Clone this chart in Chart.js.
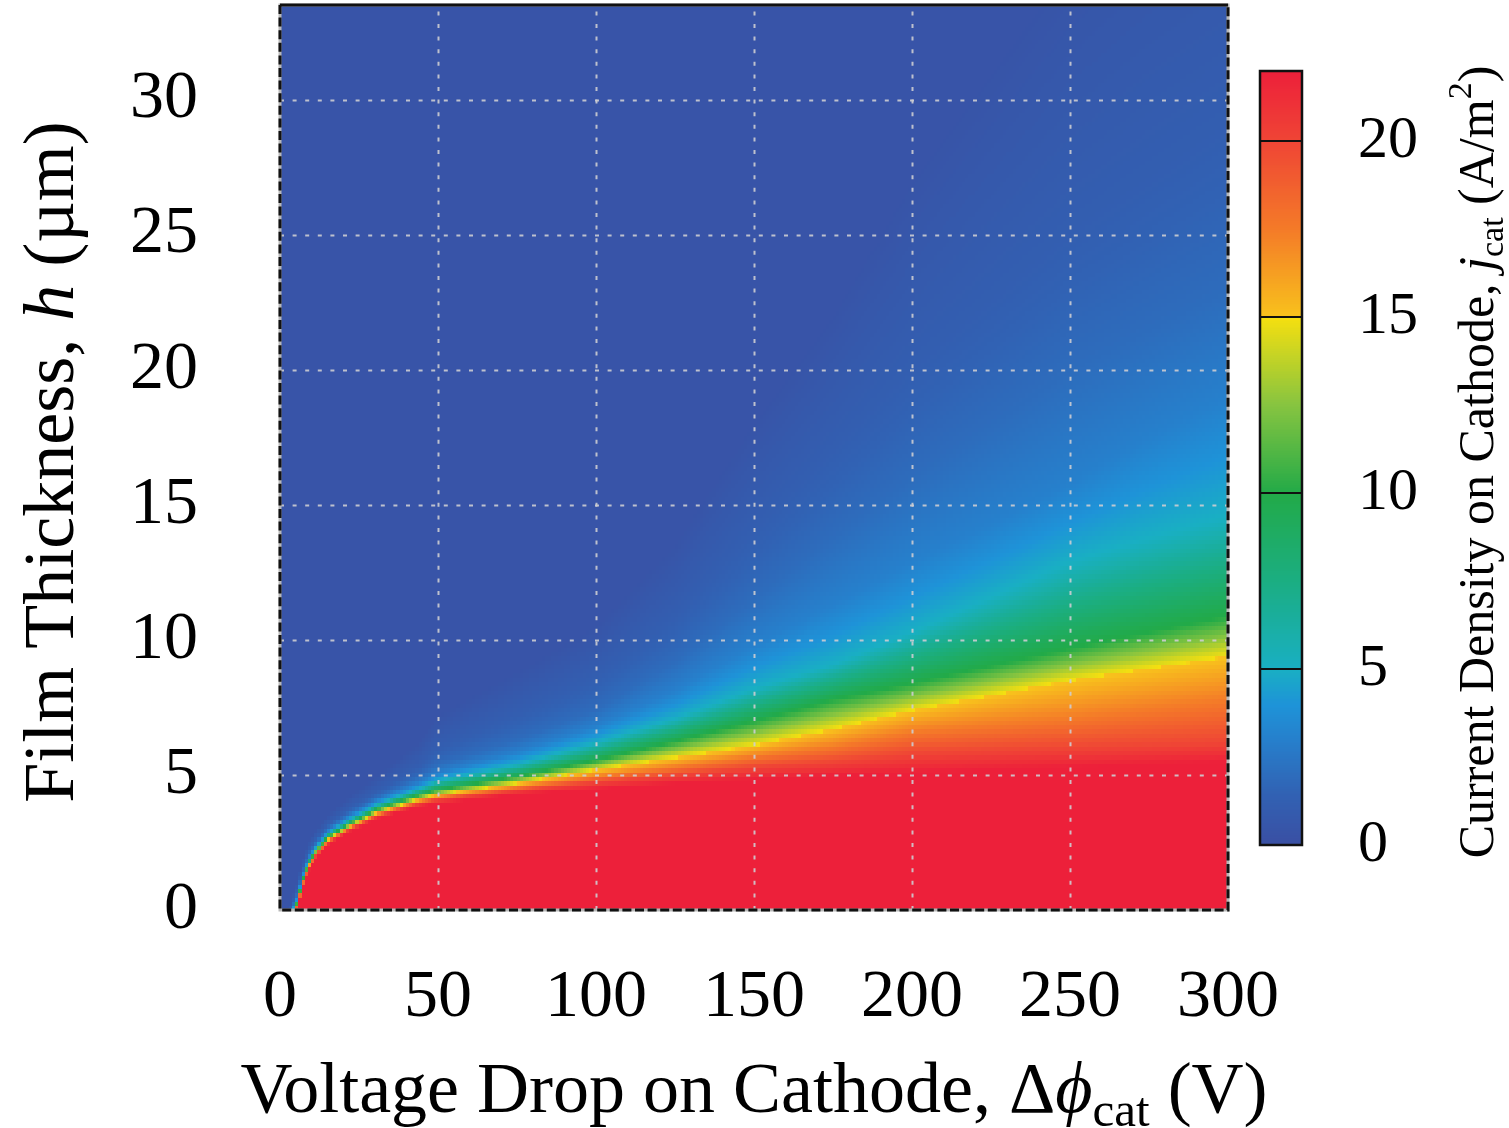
<!DOCTYPE html>
<html>
<head>
<meta charset="utf-8">
<script src="https://cdn.jsdelivr.net/npm/chart.js@4.4.1/dist/chart.umd.min.js"></script>
<style>
  html, body { margin: 0; padding: 0; background: #fff; }
  #wrap { position: relative; width: 1509px; height: 1128px; }
  #mapBox { position: absolute; left: 0; top: 0; width: 1509px; height: 1128px; }
  #barBox { position: absolute; left: 1240px; top: 0; width: 269px; height: 1128px; }
</style>
</head>
<body>
<div id="wrap">
  <div id="mapBox"><canvas id="mapChart"></canvas></div>
  <div id="barBox"><canvas id="barChart"></canvas></div>
</div>
<script>
// Voltage drop on cathode (V) at which the contour heights below were taken
const voltageColumns = [0, 4, 5.5, 7.5, 9, 11.5, 15, 22, 31, 44, 50, 75, 100, 125, 150, 175, 200, 225, 250, 275, 300];

// Current density levels (A/m2) and the film thickness (um) where each level is reached
const densityLevels = [22, 20, 17.5, 15, 10, 5, 3, 2, 1.2, 0.4];
const hAt22 = [-2.6, -0.5, -0.05, 0.9, 1.4, 1.9, 2.4, 2.9, 3.4, 3.85, 3.95, 4.3, 4.5, 4.7, 4.85, 5.0, 5.1, 5.2, 5.3, 5.4, 5.5];
const hAt20 = [-2.5, -0.4, 0.05, 1.0, 1.5, 2.0, 2.5, 3.0, 3.5, 3.95, 4.1, 4.45, 4.75, 5.0, 5.3, 5.5, 5.8, 5.9, 6.0, 6.1, 6.2];
const hAt17 = [-2.45, -0.35, 0.1, 1.05, 1.55, 2.05, 2.55, 3.05, 3.56, 4.03, 4.18, 4.57, 4.95, 5.3, 5.7, 6.05, 6.6, 6.85, 7.1, 7.45, 7.8];
const hAt15 = [-2.4, -0.3, 0.15, 1.1, 1.6, 2.1, 2.6, 3.1, 3.62, 4.11, 4.28, 4.7, 5.2, 5.65, 6.1, 6.7, 7.4, 7.95, 8.5, 8.95, 9.4];
const hAt10 = [-2.3, -0.2, 0.25, 1.2, 1.7, 2.2, 2.7, 3.2, 3.75, 4.26, 4.46, 4.95, 5.55, 6.25, 7.0, 7.8, 8.4, 9.05, 9.7, 10.3, 10.9];
const hAt5 = [-2.2, -0.1, 0.35, 1.3, 1.8, 2.3, 2.82, 3.35, 3.92, 4.5, 4.8, 5.4, 6.2, 7.1, 8.2, 9.1, 10.3, 11.6, 12.9, 13.8, 14.6];
const hAt3 = [-2.1, 0.0, 0.45, 1.4, 1.9, 2.4, 2.92, 3.5, 4.08, 4.72, 5.08, 5.85, 6.8, 8.1, 9.8, 11.3, 12.9, 14.3, 15.8, 17.5, 19];
const hAt2 = [-2.0, 0.1, 0.55, 1.5, 2.0, 2.5, 3.02, 3.6, 4.2, 4.95, 5.4, 6.3, 7.4, 9.2, 11.5, 13.8, 16, 18, 20, 21.5, 23];
const hAt1 = [-1.9, 0.2, 0.7, 1.65, 2.15, 2.65, 3.15, 3.75, 4.4, 5.3, 5.95, 7.2, 8.6, 10.8, 14, 17, 20, 22.5, 25, 27, 29];
const hAt0 = [-1.5, 0.5, 1.0, 2.0, 2.5, 3.0, 3.5, 4.2, 5.0, 6.2, 7.2, 8.8, 10.5, 13.5, 18, 22, 27, 31, 35, 38, 40];
const levelHeights = [hAt22, hAt20, hAt17, hAt15, hAt10, hAt5, hAt3, hAt2, hAt1, hAt0];

// Axis ticks
const xTickValues = [0, 50, 100, 150, 200, 250, 300];
const yTickValues = [0, 5, 10, 15, 20, 25, 30];
const barTickValues = [0, 5, 10, 15, 20];

// jet-like palette used by the map and the colour bar
const paletteStops = [0, 1.5, 3, 4, 5, 7.5, 10, 12.5, 15, 15.01, 17.5, 20, 22];
const paletteColors = ['#3a4fa3', '#3162b4', '#2680cc', '#1e93d8', '#19afc3', '#1bae82', '#22aa48',
  '#86c440', '#f5df10', '#f8c21c', '#f47b28', '#ef4535', '#ed203a'];

const serif = 'Liberation Serif, Times New Roman, serif';

function hexRgb(c) {
  return [parseInt(c.slice(1, 3), 16), parseInt(c.slice(3, 5), 16), parseInt(c.slice(5, 7), 16)];
}
const paletteRgb = paletteColors.map(hexRgb);

function colorFor(val) {
  if (val <= paletteStops[0]) return 'rgb(' + paletteRgb[0].join(',') + ')';
  for (let i = 0; i < paletteStops.length - 1; i++) {
    if (val <= paletteStops[i + 1]) {
      const t = (val - paletteStops[i]) / (paletteStops[i + 1] - paletteStops[i]);
      const a = paletteRgb[i], b = paletteRgb[i + 1];
      return 'rgb(' + a.map((c, k) => Math.round(c + (b[k] - c) * t)).join(',') + ')';
    }
  }
  return 'rgb(' + paletteRgb[paletteRgb.length - 1].join(',') + ')';
}

// current density at a given voltage and thickness, from the contour heights
function densityAt(v, h) {
  let i = 0;
  while (i < voltageColumns.length - 2 && v > voltageColumns[i + 1]) i++;
  const t = (v - voltageColumns[i]) / (voltageColumns[i + 1] - voltageColumns[i]);
  const hs = levelHeights.map(arr => arr[i] + (arr[i + 1] - arr[i]) * t);
  if (h <= hs[0]) return densityLevels[0];
  for (let k = 0; k < hs.length - 1; k++) {
    if (h <= hs[k + 1]) {
      return densityLevels[k] + (densityLevels[k + 1] - densityLevels[k]) * (h - hs[k]) / (hs[k + 1] - hs[k]);
    }
  }
  return densityLevels[densityLevels.length - 1];
}

// draws runs of text with mixed style (italic, sub/superscript) centred on (cx, cy)
function drawRuns(ctx, runs, cx, cy, angle) {
  ctx.save();
  ctx.translate(cx, cy);
  ctx.rotate(angle);
  ctx.fillStyle = '#000';
  ctx.textBaseline = 'alphabetic';
  ctx.textAlign = 'left';
  let total = 0;
  runs.forEach(r => {
    ctx.font = (r.italic ? 'italic ' : '') + r.size + 'px ' + serif;
    r.w = ctx.measureText(r.text).width;
    total += r.w;
  });
  let x = -total / 2;
  runs.forEach(r => {
    ctx.font = (r.italic ? 'italic ' : '') + r.size + 'px ' + serif;
    ctx.fillText(r.text, x, r.dy || 0);
    x += r.w;
  });
  ctx.restore();
}

// keep tick labels from pushing the plot area inwards
function noLabelPadding(s) {
  s.paddingLeft = 0;
  s.paddingRight = 0;
  s.paddingTop = 0;
  s.paddingBottom = 0;
}

const heatmapPlugin = {
  id: 'heatmap',
  beforeDatasetsDraw(chart) {
    const { ctx, chartArea: area, scales: { x, y } } = chart;
    const nx = 300, ny = 210;
    const dv = (x.max - x.min) / nx, dh = (y.max - y.min) / ny;
    ctx.save();
    for (let i = 0; i < nx; i++) {
      const v0 = x.min + i * dv;
      const px0 = Math.floor(x.getPixelForValue(v0));
      const px1 = Math.ceil(x.getPixelForValue(v0 + dv));
      for (let j = 0; j < ny; j++) {
        const h0 = y.min + j * dh;
        const py0 = Math.floor(y.getPixelForValue(h0 + dh));
        const py1 = Math.ceil(y.getPixelForValue(h0));
        ctx.fillStyle = colorFor(densityAt(v0 + dv / 2, h0 + dh / 2));
        ctx.fillRect(px0, py0, px1 - px0, py1 - py0);
      }
    }
    // dotted grid
    ctx.strokeStyle = 'rgba(205,205,210,0.9)';
    ctx.lineWidth = 2;
    ctx.setLineDash([4, 8.6]);
    xTickValues.slice(1, -1).forEach(v => {
      const px = Math.round(x.getPixelForValue(v)) + 0.5;
      ctx.beginPath(); ctx.moveTo(px, area.bottom); ctx.lineTo(px, area.top); ctx.stroke();
    });
    yTickValues.slice(1).forEach(v => {
      const py = Math.round(y.getPixelForValue(v)) + 0.5;
      ctx.beginPath(); ctx.moveTo(area.left, py); ctx.lineTo(area.right, py); ctx.stroke();
    });
    // frame
    ctx.setLineDash([]);
    ctx.lineWidth = 3;
    ctx.strokeStyle = '#b8b8b8';
    ctx.strokeRect(area.left, area.top, area.right - area.left, area.bottom - area.top);
    ctx.strokeStyle = '#111';
    ctx.setLineDash([9, 3.6]);
    ctx.beginPath();
    ctx.moveTo(area.left, area.top); ctx.lineTo(area.left, area.bottom);
    ctx.lineTo(area.right, area.bottom); ctx.lineTo(area.right, area.top);
    ctx.stroke();
    ctx.setLineDash([]);
    ctx.beginPath(); ctx.moveTo(area.left, area.top); ctx.lineTo(area.right, area.top); ctx.stroke();
    ctx.restore();
  },
  afterDraw(chart) {
    const ctx = chart.ctx;
    const area = chart.chartArea;
    drawRuns(ctx, [
      { text: 'Voltage Drop on Cathode, \u0394', size: 72 },
      { text: '\u03d5', size: 72, italic: true },
      { text: 'cat', size: 49, dy: 14 },
      { text: ' (V)', size: 72 }
    ], (area.left + area.right) / 2, 1112, 0);
    drawRuns(ctx, [
      { text: 'Film Thickness, ', size: 72 },
      { text: 'h', size: 72, italic: true },
      { text: ' (\u00b5m)', size: 72 }
    ], 73, 462, -Math.PI / 2);
  }
};

const colorBarPlugin = {
  id: 'colorBar',
  beforeDatasetsDraw(chart) {
    const { ctx, chartArea: area, scales: { y } } = chart;
    const step = 0.05;
    ctx.save();
    for (let v = y.min; v < y.max - 1e-9; v += step) {
      const top = Math.floor(y.getPixelForValue(Math.min(v + step, y.max)));
      const bottom = Math.ceil(y.getPixelForValue(v));
      ctx.fillStyle = colorFor(v + step / 2);
      ctx.fillRect(area.left, top, area.right - area.left, bottom - top);
    }
    ctx.strokeStyle = '#111';
    ctx.lineWidth = 2;
    barTickValues.slice(1).forEach(v => {
      const py = Math.round(y.getPixelForValue(v));
      ctx.beginPath(); ctx.moveTo(area.left, py); ctx.lineTo(area.right, py); ctx.stroke();
    });
    ctx.lineWidth = 2.5;
    ctx.strokeRect(area.left, area.top, area.right - area.left, area.bottom - area.top);
    ctx.restore();
  },
  afterDraw(chart) {
    drawRuns(chart.ctx, [
      { text: 'Current Density on Cathode, ', size: 50 },
      { text: 'j', size: 50, italic: true },
      { text: 'cat', size: 34, dy: 10 },
      { text: ' (A/m', size: 50 },
      { text: '2', size: 34, dy: -22 },
      { text: ')', size: 50 }
    ], 253, 462, -Math.PI / 2);
  }
};

const tickFont = { family: serif, size: 68 };

new Chart(document.getElementById('mapChart'), {
  type: 'scatter',
  data: { datasets: [] },
  options: {
    responsive: true,
    maintainAspectRatio: false,
    animation: false,
    layout: { padding: { top: 5, right: 281, left: 0, bottom: 0 } },
    plugins: { legend: { display: false }, tooltip: { enabled: false } },
    scales: {
      x: {
        type: 'linear', min: 0, max: 300,
        afterBuildTicks: s => { s.ticks = xTickValues.map(v => ({ value: v })); },
        afterFit: s => { s.height = 218; noLabelPadding(s); },
        grid: { display: false },
        border: { display: false },
        ticks: { font: tickFont, color: '#000', padding: 39, maxRotation: 0 }
      },
      y: {
        type: 'linear', min: 0, max: 33.5,
        afterBuildTicks: s => { s.ticks = yTickValues.map(v => ({ value: v })); },
        afterFit: s => { s.width = 280; noLabelPadding(s); },
        grid: { display: false },
        border: { display: false },
        ticks: { font: tickFont, color: '#000', padding: 74 }
      }
    }
  },
  plugins: [heatmapPlugin]
});

new Chart(document.getElementById('barChart'), {
  type: 'scatter',
  data: { datasets: [] },
  options: {
    responsive: true,
    maintainAspectRatio: false,
    animation: false,
    layout: { padding: { top: 71, right: 0, left: 20, bottom: 283 } },
    plugins: { legend: { display: false }, tooltip: { enabled: false } },
    scales: {
      x: { type: 'linear', min: 0, max: 1, display: false },
      y: {
        type: 'linear', position: 'right', min: 0, max: 22,
        afterBuildTicks: s => { s.ticks = barTickValues.map(v => ({ value: v })); },
        afterFit: s => { s.width = 207; noLabelPadding(s); },
        grid: { display: false },
        border: { display: false },
        ticks: { font: { family: serif, size: 60 }, color: '#000', padding: 48 }
      }
    }
  },
  plugins: [colorBarPlugin]
});
</script>
</body>
</html>
